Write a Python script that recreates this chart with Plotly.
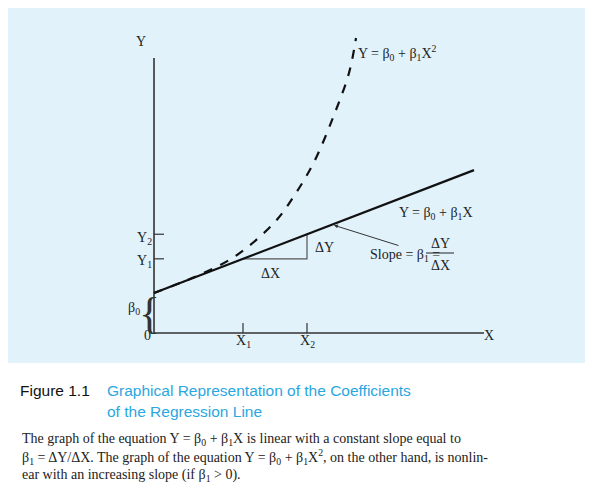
import plotly.graph_objects as go

W, H = 593, 488
# data (arbitrary units; origin at 0,0)
beta0 = 4.0
beta1 = 0.384
line_x = [0, 32]
curve_x = [0, 4, 8, 12, 14, 16, 18, 19.5, 20.2]
curve_y = [4.0, 5.58, 7.6, 11.0, 13.7, 17.1, 21.8, 26.0, 29.5]
x1, x2 = 8.9, 15.3
axis_x_end, axis_y_end = 33, 27.5
tick_labels_x = ["X<sub>1</sub>", "X<sub>2</sub>"]
tick_labels_y = ["Y<sub>1</sub>", "Y<sub>2</sub>"]

line_y = [beta0 + beta1 * v for v in line_x]
y1, y2 = beta0 + beta1 * x1, beta0 + beta1 * x2

def px(x): return x / W
def py(y): return 1 - y / H

fig = go.Figure()
ser = "Liberation Serif"
# axes
fig.add_trace(go.Scatter(x=[0, 0, axis_x_end], y=[axis_y_end, 0, 0], mode="lines",
                         line=dict(color="#333", width=1.6)))
# ticks
for xv in (x1, x2):
    fig.add_trace(go.Scatter(x=[xv, xv], y=[0, 1.0], mode="lines", line=dict(color="#333", width=1.2)))
for yv in (y1, y2):
    fig.add_trace(go.Scatter(x=[0, 1.0], y=[yv, yv], mode="lines", line=dict(color="#333", width=1.2)))
# triangle
fig.add_trace(go.Scatter(x=[x1, x2, x2], y=[y1, y1, y2], mode="lines", line=dict(color="#555", width=1.2)))
# linear
fig.add_trace(go.Scatter(x=line_x, y=line_y, mode="lines", line=dict(color="#111", width=2.2)))
# quadratic
fig.add_trace(go.Scatter(x=curve_x, y=curve_y, mode="lines", line=dict(color="#111", width=2.2, dash="dash", shape="spline")))

fig.update_xaxes(range=[-14.6, 44.7], visible=False, fixedrange=True)
fig.update_yaxes(range=[-16.3, 32.5], visible=False, fixedrange=True)

shapes = [
    dict(type="rect", xref="paper", yref="paper", x0=0, x1=px(585), y0=py(355), y1=1,
         fillcolor="#e1f2fb", line=dict(width=0), layer="below"),
    dict(type="line", xref="paper", yref="paper", x0=0, x1=px(585), y0=py(484), y1=py(484),
         line=dict(color="#8fd3f0", width=1.5)),
    dict(type="line", xref="paper", yref="paper", x0=px(418), x1=px(446), y0=py(245), y1=py(245),
         line=dict(color="#222", width=1)),
]

def T(x, y, t, size=14, xa="center", font=ser, color="#222"):
    return dict(x=px(x), y=py(y), xref="paper", yref="paper", text=t, showarrow=False,
                xanchor=xa, yanchor="middle", font=dict(family=font, size=size, color=color))

ann = [
    T(133, 33, "Y"), T(481, 327, "X"), T(139, 327, "0"),
    T(235, 333, tick_labels_x[0]), T(299, 333, tick_labels_x[1]),
    T(136, 253, tick_labels_y[0]), T(136, 230, tick_labels_y[1]),
    T(126, 300, "β<sub>0</sub>"),
    dict(x=px(141), y=py(305), xref="paper", yref="paper", text="{", showarrow=False,
         font=dict(family=ser, size=44, color="#333"), xanchor="center", yanchor="middle"),
    T(348, 45, "Y = β<sub>0</sub> + β<sub>1</sub>X<sup>2</sup>", xa="left"),
    T(389, 205, "Y = β<sub>0</sub> + β<sub>1</sub>X", xa="left"),
    T(305, 239, "ΔY", xa="left"), T(262, 265, "ΔX"),
    T(360, 247, "Slope = β<sub>1</sub> =", xa="left"),
    T(432, 235, "ΔY"), T(432, 257, "ΔX"),
    dict(x=17.8, y=beta0 + beta1 * 17.8, xref="x", yref="y", ax=24.6, ay=8.7,
         axref="x", ayref="y", text="", showarrow=True, arrowhead=2, arrowsize=0.8,
         arrowwidth=1, arrowcolor="#333", standoff=2),
    T(10, 382, "Figure 1.1", size=15.5, xa="left", font="Liberation Sans", color="#111"),
    T(97, 382, "Graphical Representation of the Coefficients", size=15.5, xa="left", font="Liberation Sans", color="#2aa7e0"),
    T(97, 403, "of the Regression Line", size=15.5, xa="left", font="Liberation Sans", color="#2aa7e0"),
    T(12, 431, "The graph of the equation Y = β<sub>0</sub> + β<sub>1</sub>X is linear with a constant slope equal to", size=14, xa="left"),
    T(12, 449, "β<sub>1</sub> = ΔY/ΔX. The graph of the equation Y = β<sub>0</sub> + β<sub>1</sub>X<sup>2</sup>, on the other hand, is nonlin-", size=14, xa="left"),
    T(12, 467, "ear with an increasing slope (if β<sub>1</sub> > 0).", size=14, xa="left"),
]

fig.update_layout(width=W, height=H, margin=dict(l=0, r=0, t=0, b=0), showlegend=False,
                  paper_bgcolor="white", plot_bgcolor="rgba(0,0,0,0)", shapes=shapes, annotations=ann)
fig.write_html("out.html", config={"displayModeBar": False})
